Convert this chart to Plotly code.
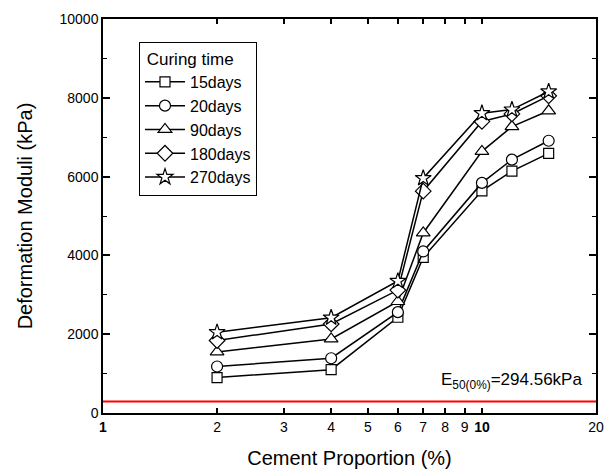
import plotly.graph_objects as go

cement = [2, 4, 6, 7, 10, 12, 15]
d15 = [900, 1100, 2430, 3950, 5640, 6140, 6590]
d20 = [1180, 1390, 2560, 4100, 5840, 6430, 6910]
d90 = [1550, 1880, 2830, 4570, 6640, 7270, 7670]
d180 = [1840, 2260, 3120, 5630, 7400, 7590, 8050]
d270 = [2050, 2420, 3350, 5960, 7610, 7700, 8160]
series_names = ["15days", "20days", "90days", "180days", "270days"]
symbols = ["square", "circle", "triangle-up", "diamond", "star"]
E50 = 294.56

x_tickvals = [1, 2, 3, 4, 5, 6, 7, 8, 9, 10, 20]
x_ticktext = ["<b>1</b>", "2", "3", "4", "5", "6", "7", "8", "9", "<b>10</b>", "20"]
y_tickvals = [0, 2000, 4000, 6000, 8000, 10000]

FONT = "Liberation Sans, Arial, sans-serif"

fig = go.Figure()
sizes = [10, 11, 12, 12, 12]
for name, ys, sym, sz in zip(series_names, [d15, d20, d90, d180, d270], symbols, sizes):
    fig.add_trace(go.Scatter(
        x=cement, y=ys, name=name, mode="lines+markers",
        line=dict(color="black", width=1.5),
        marker=dict(symbol=sym, size=sz, color="white", line=dict(color="black", width=1.2)),
    ))

fig.add_hline(y=E50, line=dict(color="#ff0000", width=2))

fig.add_annotation(
    text="E<sub>50(0%)</sub>=294.56kPa", xref="paper", yref="y",
    x=0.975, y=800, xanchor="right", yanchor="middle", showarrow=False,
    font=dict(family=FONT, size=17, color="black"),
)

fig.update_layout(
    width=615, height=470,
    margin=dict(l=103, r=19, t=19, b=57, autoexpand=False),
    paper_bgcolor="white", plot_bgcolor="white",
    font=dict(family=FONT, color="black"),
    showlegend=True,
    legend=dict(
        title=dict(text=" Curing time", font=dict(size=17, family=FONT)),
        font=dict(size=16, family=FONT),
        x=0.073, y=0.942, xanchor="left", yanchor="top",
        bgcolor="white", bordercolor="black", borderwidth=1,
        itemwidth=40, tracegroupgap=0,
    ),
    xaxis=dict(
        type="log", range=[0, 1.30103], automargin=False,
        tickvals=x_tickvals, ticktext=x_ticktext,
        ticks="inside", ticklen=5, tickwidth=1.5, tickcolor="black",
        showline=True, linecolor="black", linewidth=1.5, mirror="ticks",
        showgrid=False, zeroline=False,
        tickfont=dict(size=14, family=FONT),
        title=dict(text="Cement Proportion (%)", font=dict(size=20, family=FONT), standoff=17),
    ),
    yaxis=dict(
        range=[0, 10000], tickvals=y_tickvals, tickformat="d", automargin=False,
        ticks="inside", ticklen=7, tickwidth=1.5, tickcolor="black",
        minor=dict(dtick=1000, ticks="inside", ticklen=4, tickwidth=1.2, tickcolor="black"),
        showline=True, linecolor="black", linewidth=1.5, mirror="ticks",
        showgrid=False, zeroline=False,
        tickfont=dict(size=14, family=FONT),
        title=dict(text="Deformation Moduli (kPa)", font=dict(size=20, family=FONT), standoff=22),
    ),
)

fig.write_html("out.html", config={"displayModeBar": False},
               post_script="document.body.style.margin='0px';")
